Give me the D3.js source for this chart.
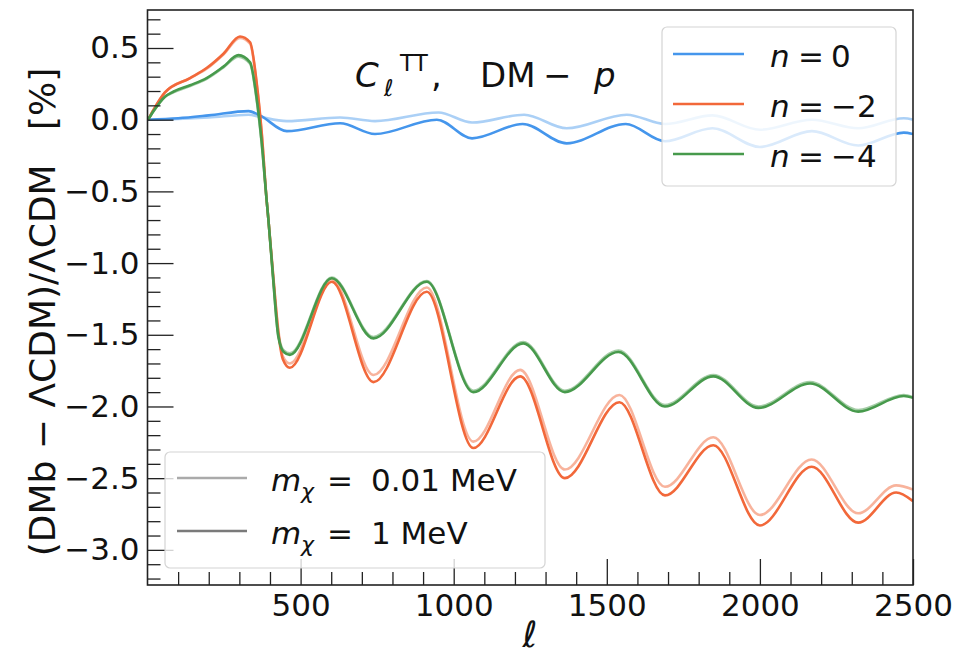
<!DOCTYPE html>
<html><head><meta charset="utf-8">
<script src="https://cdn.jsdelivr.net/npm/d3@7"></script>
<style>body{margin:0;background:#fff}svg{display:block}text{font-family:"DejaVu Sans",sans-serif;fill:#111}</style>
</head><body><svg id="c" width="957" height="659"></svg>
<script>
// ---- data ----
const xTicks = [500, 1000, 1500, 2000, 2500];
const yTicks = [-3.0, -2.5, -2.0, -1.5, -1.0, -0.5, 0.0, 0.5];

const ellN0Heavy = [2, 100, 200, 330, 367, 455, 629, 743, 945, 1060, 1225, 1369, 1562, 1690, 1845, 2000, 2170, 2321, 2470, 2500];
const n0Heavy    = [0, 0.01, 0.03, 0.06, 0.03, -0.08, -0.025, -0.10, 0.0, -0.13, -0.03, -0.165, -0.03, -0.15, -0.06, -0.19, -0.08, -0.18, -0.09, -0.10];
const ellN0Light = [2, 100, 200, 330, 367, 455, 629, 743, 950, 1060, 1230, 1369, 1565, 1690, 1845, 2000, 2170, 2321, 2470, 2500];
const n0Light    = [0, 0.005, 0.015, 0.035, 0.02, -0.01, 0.015, -0.01, 0.05, -0.02, 0.035, -0.06, 0.035, -0.03, 0.03, -0.07, 0.0, -0.06, 0.01, 0.0];

const ellN2 = [2, 20, 57, 139, 193, 248, 302, 335, 357, 373, 389, 395, 410, 427, 442, 465, 602, 738, 912, 1064, 1217, 1363, 1541, 1690, 1848, 2000, 2169, 2321, 2445, 2500];
const n2Heavy = [0, 0.07, 0.19, 0.29, 0.36, 0.46, 0.58, 0.54, 0.25, -0.09, -0.56, -0.70, -1.08, -1.48, -1.67, -1.73, -1.13, -1.83, -1.20, -2.29, -1.79, -2.50, -1.97, -2.62, -2.27, -2.83, -2.42, -2.81, -2.60, -2.66];
const n2Light = [0, 0.07, 0.19, 0.29, 0.355, 0.455, 0.57, 0.53, 0.24, -0.10, -0.56, -0.70, -1.07, -1.46, -1.65, -1.70, -1.11, -1.78, -1.17, -2.245, -1.745, -2.44, -1.92, -2.56, -2.215, -2.757, -2.37, -2.745, -2.55, -2.58];

const ellN4 = [2, 20, 57, 84, 139, 193, 248, 297, 335, 357, 373, 389, 395, 410, 427, 445, 465, 602, 738, 912, 1064, 1227, 1363, 1538, 1690, 1848, 1995, 2164, 2321, 2470, 2500];
const n4Heavy = [0, 0.06, 0.16, 0.195, 0.24, 0.29, 0.37, 0.45, 0.40, 0.14, -0.16, -0.56, -0.70, -1.10, -1.51, -1.62, -1.64, -1.106, -1.525, -1.13, -1.90, -1.56, -1.90, -1.62, -2.00, -1.79, -2.01, -1.84, -2.036, -1.927, -1.94];
const n4Light = [0, 0.06, 0.16, 0.19, 0.235, 0.285, 0.365, 0.44, 0.39, 0.13, -0.17, -0.56, -0.70, -1.10, -1.50, -1.61, -1.63, -1.10, -1.515, -1.125, -1.89, -1.55, -1.89, -1.61, -1.99, -1.78, -2.0, -1.83, -2.025, -1.92, -1.935];

const nLabels = ["0", "\u22122", "\u22124"];
const massLabels = ["0.01 MeV", "1 MeV"];

const colBlue = "#4596ec", colOrange = "#f2683a", colGreen = "#479a4c";

// ---- layout ----
const svg = d3.select("#c");
const L = 147.5, R = 913, T = 10, B = 585;
const x = d3.scaleLinear().domain([0, 2500]).range([L, R]);
const y = d3.scaleLinear().domain([-3.245, 0.765]).range([B, T]);

svg.append("rect").attr("width", 957).attr("height", 659).attr("fill", "#fff");
svg.append("clipPath").attr("id", "clip").append("rect").attr("x", L).attr("y", T).attr("width", R - L).attr("height", B - T);

const line = d3.line().x(d => x(d[0])).y(d => y(d[1])).curve(d3.curveMonotoneX);
const g = svg.append("g").attr("clip-path", "url(#clip)");
function draw(ells, vals, col, op) {
  g.append("path").datum(ells.map((e, i) => [e, vals[i]]))
    .attr("d", line).attr("fill", "none").attr("stroke", col)
    .attr("stroke-width", 2.6).attr("stroke-opacity", op).attr("stroke-linejoin", "round");
}
draw(ellN0Light, n0Light, colBlue, 0.45);
draw(ellN0Heavy, n0Heavy, colBlue, 1);
draw(ellN2, n2Light, colOrange, 0.5);
draw(ellN2, n2Heavy, colOrange, 1);
draw(ellN4, n4Light, colGreen, 0.5);
draw(ellN4, n4Heavy, colGreen, 1);

// ---- axes ----
const fmt = v => (v < 0 ? "\u2212" : "") + Math.abs(v).toFixed(1);
const yMinor = d3.range(-32, 8).map(i => i / 10).filter(v => !yTicks.some(t => Math.abs(t - v) < 1e-6));
const xMinor = d3.range(1, 25).map(i => i * 100).filter(v => v % 500 !== 0);

function styleAxis(sel) {
  sel.select(".domain").remove();
  sel.selectAll(".tick line").attr("stroke", "#222").attr("stroke-width", 1.3);
  sel.selectAll(".tick text").attr("font-size", 31).attr("fill", "#111").attr("font-family", "DejaVu Sans");
}
svg.append("g").attr("transform", `translate(${L},0)`)
  .call(d3.axisLeft(y).tickValues(yMinor).tickSize(-13).tickFormat("")).call(styleAxis);
svg.append("g").attr("transform", `translate(${L},0)`)
  .call(d3.axisLeft(y).tickValues(yTicks).tickSize(-26).tickPadding(8).tickFormat(fmt)).call(styleAxis);
svg.append("g").attr("transform", `translate(0,${B})`)
  .call(d3.axisBottom(x).tickValues(xMinor).tickSize(-13).tickFormat("")).call(styleAxis);
svg.append("g").attr("transform", `translate(0,${B})`)
  .call(d3.axisBottom(x).tickValues(xTicks).tickSize(-26).tickPadding(9).tickFormat(d3.format("d"))).call(styleAxis);

svg.append("rect").attr("x", L).attr("y", T).attr("width", R - L).attr("height", B - T)
  .attr("fill", "none").attr("stroke", "#222").attr("stroke-width", 1.6);

// ---- annotation ----
const ann = svg.append("g");
ann.append("text").attr("x", 355).attr("y", 87).attr("font-size", 34).attr("font-style", "italic").text("C");
ann.append("text").attr("x", 384).attr("y", 96).attr("font-size", 23).attr("font-style", "italic").text("\u2113");
ann.append("text").attr("x", 400).attr("y", 71).attr("font-size", 23).text("TT");
ann.append("text").attr("x", 431).attr("y", 87).attr("font-size", 34).text(",");
ann.append("text").attr("x", 480).attr("y", 87).attr("font-size", 34).text("DM");
ann.append("text").attr("x", 543).attr("y", 87).attr("font-size", 34).text("\u2212");
ann.append("text").attr("x", 594).attr("y", 87).attr("font-size", 34).attr("font-style", "italic").text("p");

// ---- legend n ----
const lg = svg.append("g");
lg.append("rect").attr("x", 662).attr("y", 27).attr("width", 234).attr("height", 159).attr("rx", 5)
  .attr("fill", "#fff").attr("fill-opacity", 0.8).attr("stroke", "#d4d4d4").attr("stroke-width", 1.2);
[colBlue, colOrange, colGreen].forEach((c, i) => {
  const yy = 54 + i * 50;
  lg.append("line").attr("x1", 673).attr("x2", 744).attr("y1", yy).attr("y2", yy).attr("stroke", c).attr("stroke-width", 2.6);
  lg.append("text").attr("x", 770).attr("y", yy + 13).attr("font-size", 31).attr("font-style", "italic").text("n");
  lg.append("text").attr("x", 798).attr("y", yy + 13).attr("font-size", 31).text("=");
  lg.append("text").attr("x", 831).attr("y", yy + 13).attr("font-size", 31).text(nLabels[i]);
});

// ---- legend mass ----
const lm = svg.append("g");
lm.append("rect").attr("x", 165).attr("y", 452).attr("width", 380).attr("height", 116).attr("rx", 5)
  .attr("fill", "#fff").attr("fill-opacity", 0.8).attr("stroke", "#d4d4d4").attr("stroke-width", 1.2);
["#aaaaaa", "#7a7a7a"].forEach((c, i) => {
  const yy = 478 + i * 53;
  lm.append("line").attr("x1", 177).attr("x2", 247).attr("y1", yy).attr("y2", yy).attr("stroke", c).attr("stroke-width", 2.6);
  lm.append("text").attr("x", 271).attr("y", yy + 13).attr("font-size", 31).attr("font-style", "italic").text("m");
  lm.append("text").attr("x", 301).attr("y", yy + 21).attr("font-size", 22).attr("font-style", "italic").text("\u03c7");
  lm.append("text").attr("x", 327).attr("y", yy + 13).attr("font-size", 31).text("=");
  lm.append("text").attr("x", 371).attr("y", yy + 13).attr("font-size", 31).text(massLabels[i]);
});

// ---- axis labels ----
svg.append("text").attr("transform", "translate(55,312) rotate(-90)").attr("text-anchor", "middle")
  .attr("font-size", 36).style("white-space", "pre").text("(DMb \u2212 \u039bCDM)/\u039bCDM   [%]");
svg.append("text").attr("x", 530).attr("y", 647).attr("text-anchor", "middle")
  .attr("font-size", 36).attr("font-style", "italic").text("\u2113");
</script></body></html>
